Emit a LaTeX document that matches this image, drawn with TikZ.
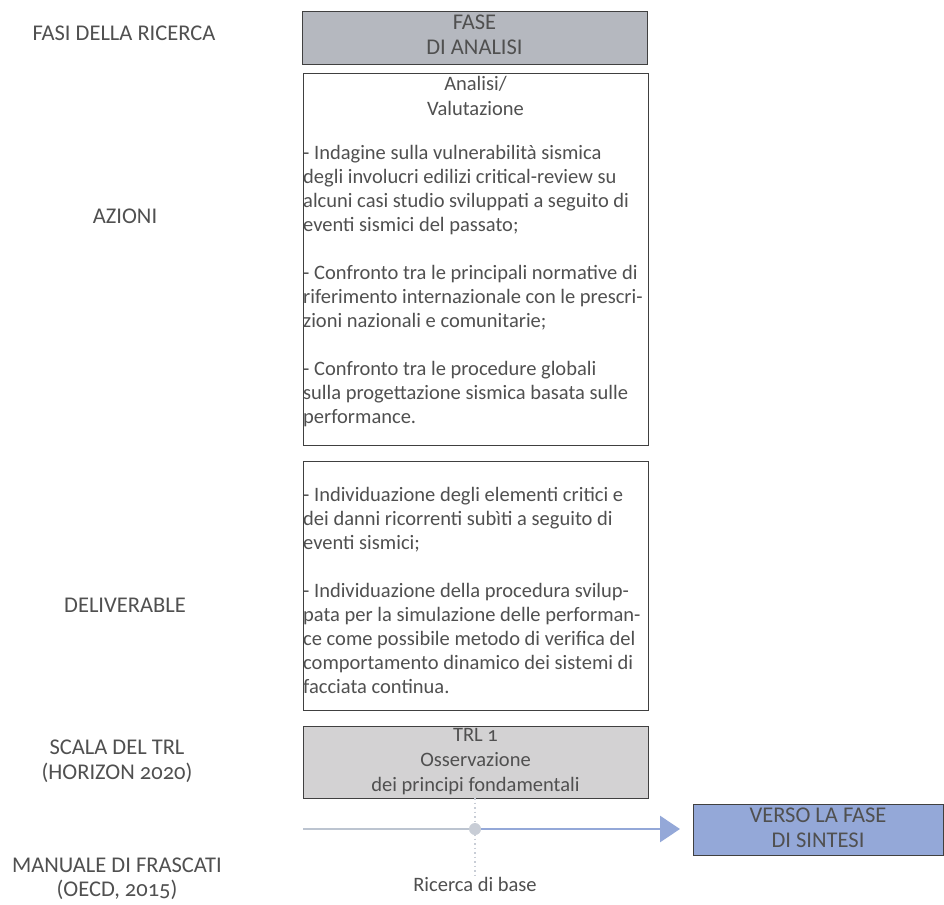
\documentclass[tikz,border=0pt]{standalone}
\usepackage{fontspec}
\setmainfont{Carlito}[Numbers=OldStyle]
\usetikzlibrary{arrows.meta}
\definecolor{txt}{HTML}{505050}
\definecolor{phase}{HTML}{B5B8BF}
\definecolor{trl}{HTML}{D3D2D3}
\definecolor{verso}{HTML}{94A8D8}
\definecolor{axisgray}{HTML}{BCC4D0}
\definecolor{dotgray}{HTML}{C8CDD6}
\tikzset{
  lbl/.style={font=\fontsize{20.5}{24}\selectfont, text=txt, align=center, inner sep=0},
  caps/.style={font=\fontsize{22.5}{25}\selectfont, text=txt, align=center, inner sep=0},
  body/.style={font=\fontsize{20.5}{24}\selectfont, text=txt, align=left, anchor=north west, inner sep=0},
  frame/.style={draw=black!75, line width=0.9pt},
}
\begin{document}
\begin{tikzpicture}[x=1pt,y=-1pt]
\useasboundingbox[fill=white] (0,0) rectangle (944,904);
% left labels
\node[caps] (l1) at (124,33) {FASI DELLA RICERCA};
\node[caps] (l2) at (125,216) {AZIONI};
\node[caps] (l3) at (125,605) {DELIVERABLE};
\node[caps] (l4) at (117,761) {SCALA DEL TRL\\(HORIZON 2020)};
\node[caps, font=\fontsize{22.5}{24}\selectfont] (l5) at (117,879) {MANUALE DI FRASCATI\\(OECD, 2015)};
% boxes
\draw[frame, fill=phase] (302,11) rectangle (647,64);
\node[caps] (fase) at (474.5,35) {FASE\\DI ANALISI};
\draw[frame] (303,73) rectangle (648,445);
\node[lbl, font=\fontsize{20.5}{25}\selectfont] (anh) at (475.5,96) {Analisi/\\Valutazione};
\node[body] (antx) at (303,145) {- Indagine sulla vulnerabilità sismica\\degli involucri edilizi critical-review su\\alcuni casi studio sviluppati a seguito di\\eventi sismici del passato;\\[24pt]- Confronto tra le principali normative di\\riferimento internazionale con le prescri-\\zioni nazionali e comunitarie;\\[24pt]- Confronto tra le procedure globali\\sulla progettazione sismica basata sulle\\performance.};
\draw[frame] (303,461) rectangle (648,710);
\node[body] (deltx) at (303,487) {- Individuazione degli elementi critici e\\dei danni ricorrenti subìti a seguito di\\eventi sismici;\\[24pt]- Individuazione della procedura svilup-\\pata per la simulazione delle performan-\\ce come possibile metodo di verifica del\\comportamento dinamico dei sistemi di\\facciata continua.};
\draw[frame, fill=trl] (303,726) rectangle (648,798);
\node[lbl, font=\fontsize{20.5}{25}\selectfont] (trltx) at (475.5,762) {TRL 1\\Osservazione\\dei principi fondamentali};
% axis
\coordinate (a0) at (303,829);
\coordinate (dot) at (475,829);
\coordinate (tip) at (680,829);
\coordinate (dtop) at (475,798);
\coordinate (dbot) at (475,875);
\draw[dotgray, line width=2pt, dash pattern=on 1.5pt off 3pt] (dtop) -- (dbot);
\draw[axisgray, line width=2.8pt] (a0) -- (dot);
\draw[verso, line width=2.8pt, -{Triangle[length=20pt,width=26pt]}] (dot) -- (tip);
\fill[dotgray] (dot) circle (6);
\node[lbl] (ric) at (475,884) {Ricerca di base};
\draw[frame, fill=verso] (693,804) rectangle (943,855);
\node[caps] (vtx) at (818,828) {VERSO LA FASE\\DI SINTESI};
\end{tikzpicture}
\end{document}
